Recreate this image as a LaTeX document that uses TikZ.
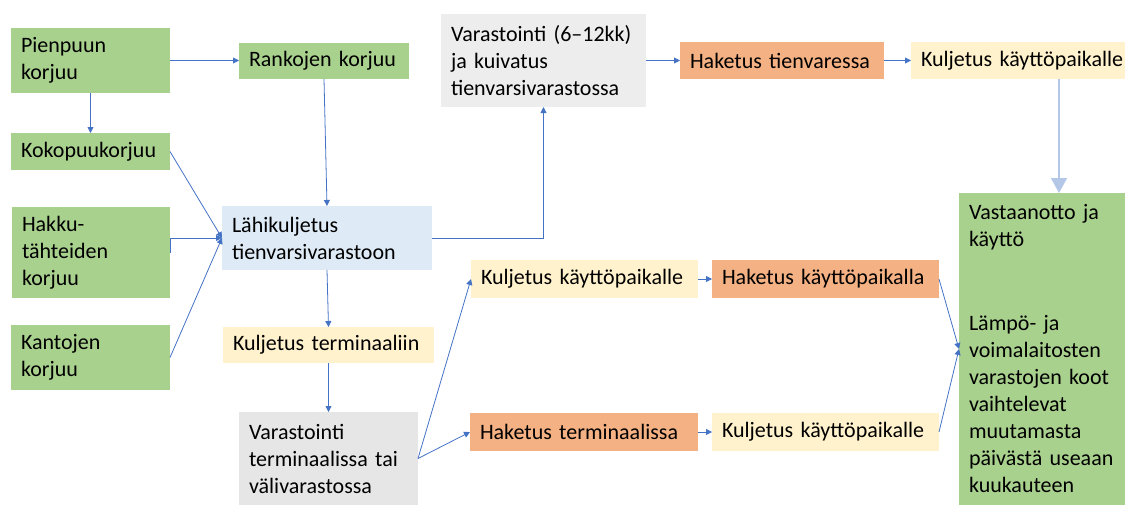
\documentclass[tikz,border=0pt]{standalone}
\usepackage{fontspec}
\setmainfont{Carlito}
\usetikzlibrary{arrows.meta}
\definecolor{cgreen}{HTML}{A9D18E}
\definecolor{cblue}{HTML}{DEEBF7}
\definecolor{cyellow}{HTML}{FFF2CC}
\definecolor{cgray}{HTML}{EDEDED}
\definecolor{cgrayb}{HTML}{E7E6E6}
\definecolor{corange}{HTML}{F4B183}
\definecolor{carrow}{HTML}{4472C4}
\definecolor{cbigarrow}{HTML}{B4C7E7}
\tikzset{
  box/.style={anchor=north west, inner xsep=10pt, inner ysep=0pt, align=left, outer sep=0pt,
    execute at begin node={\hyphenpenalty=10000}},
  conn/.style={draw=carrow, line width=0.8pt, -{Triangle[length=6pt,width=6pt]}},
  bigconn/.style={draw=cbigarrow, line width=1.5pt, -{Triangle[length=15pt,width=16pt]}}
}
\begin{document}
\begin{tikzpicture}[x=1pt,y=-1pt,font=\fontsize{22}{27}\selectfont]
\useasboundingbox (0,0) rectangle (1125,512);
\clip (0,0) rectangle (1125,512);
\node[box, fill=cgreen, minimum width=159pt, text width=139pt, minimum height=65pt] (pien) at (11,28) {Pienpuun\\korjuu};
\node[box, fill=cgreen, minimum width=170pt, text width=150pt, minimum height=36pt] (rank) at (239,43) {Rankojen korjuu};
\node[box, fill=cgreen, minimum width=159pt, text width=139pt, minimum height=37pt] (koko) at (11,133) {Kokopuukorjuu};
\node[box, fill=cgreen, minimum width=158pt, text width=138pt, minimum height=91pt] (hakku) at (12,207) {Hakku-\\tähteiden\\korjuu};
\node[box, fill=cgreen, minimum width=159pt, text width=139pt, minimum height=65pt] (kanto) at (11,325) {Kantojen\\korjuu};
\node[box, fill=cblue, minimum width=210pt, text width=190pt, minimum height=64pt] (lahi) at (222,206) {Lähikuljetus\\tienvarsivarastoon};
\node[box, fill=cyellow, minimum width=211pt, text width=191pt, minimum height=36pt] (kterm) at (223,327) {Kuljetus terminaaliin};
\node[box, fill=cgrayb, minimum width=179pt, text width=159pt, minimum height=93pt] (varterm) at (239,412) {Varastointi\\terminaalissa tai\\välivarastossa};
\node[box, fill=cgray, minimum width=205pt, text width=185pt, minimum height=93pt] (vartien) at (441,14) {Varastointi (6–12kk)\\ja kuivatus\\tienvarsivarastossa};
\node[box, fill=corange, minimum width=204pt, text width=184pt, minimum height=37pt] (haktien) at (680,42) {Haketus tienvaressa};
\node[box, fill=cyellow, minimum width=230pt, text width=210pt, minimum height=37pt] (kkay1) at (911,42) {Kuljetus käyttöpaikalle};
\node[box, fill=cyellow, minimum width=227pt, text width=207pt, minimum height=38pt] (kkay2) at (471,260) {Kuljetus käyttöpaikalle};
\node[box, fill=corange, minimum width=227pt, text width=207pt, minimum height=38pt] (hakkay) at (712,260) {Haketus käyttöpaikalla};
\node[box, fill=corange, minimum width=228pt, text width=208pt, minimum height=38pt] (hakterm) at (470,413) {Haketus terminaalissa};
\node[box, fill=cyellow, minimum width=227pt, text width=207pt, minimum height=38pt] (kkay3) at (712,413) {Kuljetus käyttöpaikalle};
\node[box, fill=cgreen, minimum width=200pt, text width=180pt, minimum height=312pt] (vast) at (959,193) {Vastaanotto ja\\käyttö\\[57pt]Lämpö- ja\\voimalaitosten\\varastojen koot\\vaihtelevat\\muutamasta\\päivästä useaan\\kuukauteen};
% connectors
\draw[conn] (pien.east) -- (pien.east -| rank.west);
\draw[conn] (pien.south) -- (koko.north);
\draw[conn] (rank.south) -- (lahi.north);
\draw[conn] (koko.east) -- (lahi.west);
\draw[conn] (hakku.east) |- (lahi.west);
\draw[conn] (kanto.east) -- (lahi.west);
\draw[conn] (lahi.south) -- (kterm.north);
\draw[conn] (kterm.south) -- (varterm.north);
\draw[conn] (lahi.east) -| (vartien.south);
\draw[conn] (vartien.east) -- (haktien.west);
\draw[conn] (haktien.east) -- (kkay1.west);
\draw[bigconn] (vast.north |- kkay1.south) -- (vast.north);
\draw[conn] (varterm.east) -- (kkay2.west);
\draw[conn] (varterm.east) -- (hakterm.west);
\draw[conn] (kkay2.east) -- (hakkay.west);
\draw[conn] (hakterm.east) -- (kkay3.west);
\draw[conn] (hakkay.east) -- (vast.west);
\draw[conn] (kkay3.east) -- (vast.west);
\end{tikzpicture}
\end{document}
